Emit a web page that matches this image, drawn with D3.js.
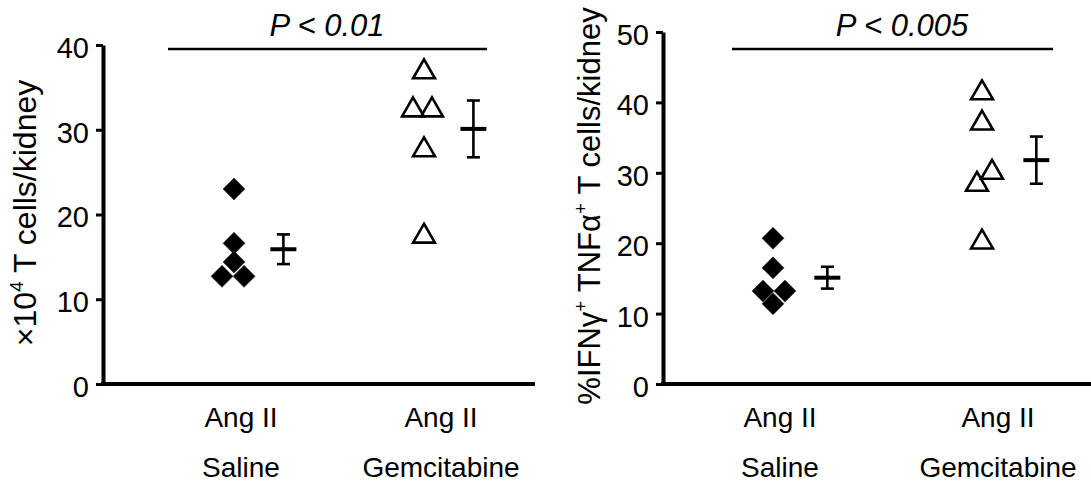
<!DOCTYPE html>
<html>
<head>
<meta charset="utf-8">
<script src="https://cdn.jsdelivr.net/npm/d3@7.9.0/dist/d3.min.js"></script>
<style>
  body { margin: 0; background: #fff; }
  svg { display: block; }
  text { font-family: "Liberation Sans", Arial, sans-serif; fill: #000; }
</style>
</head>
<body>
<svg id="chart" width="1091" height="487"></svg>
<script>
const groups = ["Saline", "Gemcitabine"];
const treatment = "Ang II";

// left panel: x10^4 T cells per kidney
const cellsSaline = [23.0, 16.6, 14.4, 12.7, 12.7];
const cellsGem = [37.2, 32.7, 32.7, 28.0, 17.8];
const cellsMean = [15.9, 30.1];
const cellsSem = [1.75, 3.35];
const cellsTicks = [0, 10, 20, 30, 40];

// right panel: % IFNg+ TNFa+ T cells per kidney
const ifnSaline = [20.7, 16.5, 13.2, 13.2, 11.4];
const ifnGem = [41.8, 37.5, 30.5, 28.8, 20.6];
const ifnMean = [15.1, 31.8];
const ifnSem = [1.55, 3.35];
const ifnTicks = [0, 10, 20, 30, 40, 50];

// side-by-side spread of tied points (fraction of group spacing)
const cellsSpread = [[0, 0, 0, -0.063, 0.053], [0, -0.058, 0.042, 0, 0]];
const ifnSpread = [[0, 0, -0.048, 0.057, 0], [0, 0, 0.048, -0.024, 0]];

const pLabels = ["P < 0.01", "P < 0.005"];

const svg = d3.select("#chart");

function drawPanel(cfg) {
  const g = svg.append("g");
  const y = d3.scaleLinear().domain([0, cfg.max]).range([cfg.yBottom, cfg.yTop]);
  const x = d3.scaleLinear().domain([0, 1]).range(cfg.groupX);

  // y axis
  g.append("g")
    .attr("transform", `translate(${cfg.axisX},0)`)
    .call(d3.axisLeft(y).tickValues(cfg.ticks).tickSize(7).tickSizeOuter(0).tickPadding(7))
    .attr("font-size", 29)
    .attr("font-family", null)
    .call(a => {
      a.select(".domain").attr("stroke", "#000").attr("stroke-width", 4);
      a.selectAll(".tick line").attr("stroke", "#000").attr("stroke-width", 3);
      a.selectAll(".tick text").attr("dy", "0.43em").attr("fill", "#000");
    });

  // x baseline
  g.append("line")
    .attr("x1", cfg.axisX - 2).attr("x2", cfg.right)
    .attr("y1", y(0)).attr("y2", y(0))
    .attr("stroke", "#000").attr("stroke-width", 4);

  // y title
  const t = g.append("text")
    .attr("transform", `translate(${cfg.titleX},${cfg.titleY}) rotate(-90)`)
    .attr("text-anchor", "middle")
    .attr("font-size", cfg.titleSize);
  cfg.title.forEach(p => {
    t.append("tspan")
      .attr("font-size", p.sup ? "0.6em" : null)
      .attr("dy", p.sup ? "-0.7em" : (p.back ? "0.42em" : null))
      .text(p.s);
  });

  // saline diamonds
  const diamond = d3.symbol(d3.symbolSquare, 242);
  g.selectAll(".dia")
    .data(cfg.saline)
    .join("path")
    .attr("d", diamond)
    .attr("transform", (d, j) => `translate(${x(0 + cfg.spread[0][j])},${y(d)}) rotate(45)`)
    .attr("fill", "#000")
    .attr("stroke", "#333")
    .attr("stroke-width", 0.6);

  // gemcitabine open triangles
  const tri = d3.symbol(d3.symbolTriangle, 206);
  g.selectAll(".tri")
    .data(cfg.gem)
    .join("path")
    .attr("d", tri)
    .attr("transform", (d, j) => `translate(${x(1 + cfg.spread[1][j])},${y(d) + 3.2})`)
    .attr("fill", "none")
    .attr("stroke", "#000")
    .attr("stroke-width", 2.6);

  // mean +/- SEM
  cfg.mean.forEach((m, i) => {
    const cx = x(i + 0.26);
    const top = y(m + cfg.sem[i]);
    const bot = y(m - cfg.sem[i]);
    g.append("line").attr("x1", cx).attr("x2", cx).attr("y1", top).attr("y2", bot)
      .attr("stroke", "#000").attr("stroke-width", 2.6);
    [top, bot].forEach(v => g.append("line")
      .attr("x1", cx - 6.5).attr("x2", cx + 6.5).attr("y1", v).attr("y2", v)
      .attr("stroke", "#000").attr("stroke-width", 2.6));
    g.append("line").attr("x1", cx - 13).attr("x2", cx + 13).attr("y1", y(m)).attr("y2", y(m))
      .attr("stroke", "#000").attr("stroke-width", 4);
  });

  // group labels
  groups.forEach((name, i) => {
    const lx = x(i) + cfg.labelShift[i];
    g.append("text").attr("x", lx).attr("y", 427).attr("text-anchor", "middle")
      .attr("font-size", 28).text(treatment);
    g.append("text").attr("x", lx).attr("y", 477).attr("text-anchor", "middle")
      .attr("font-size", 28).text(name);
  });

  // significance bar
  g.append("line")
    .attr("x1", cfg.sigX[0]).attr("x2", cfg.sigX[1])
    .attr("y1", 49).attr("y2", 49)
    .attr("stroke", "#000").attr("stroke-width", 2.5);
  g.append("text")
    .attr("x", cfg.pX).attr("y", 36)
    .attr("text-anchor", "middle")
    .attr("font-size", 31)
    .attr("font-style", "italic")
    .text(cfg.pLabel);
}

drawPanel({
  max: 40, ticks: cellsTicks, axisX: 103, right: 535, yTop: 45, yBottom: 384,
  groupX: [234, 424], saline: cellsSaline, gem: cellsGem, spread: cellsSpread,
  mean: cellsMean, sem: cellsSem, labelShift: [7, 17],
  sigX: [168, 487], pX: 327, pLabel: pLabels[0],
  titleX: 36, titleY: 213, titleSize: 32,
  title: [{ s: "×10" }, { s: "4", sup: true }, { s: " T cells/kidney", back: true }]
});

drawPanel({
  max: 50, ticks: ifnTicks, axisX: 663, right: 1091, yTop: 32, yBottom: 384,
  groupX: [773, 982], saline: ifnSaline, gem: ifnGem, spread: ifnSpread,
  mean: ifnMean, sem: ifnSem, labelShift: [7, 16],
  sigX: [732, 1053], pX: 902, pLabel: pLabels[1],
  titleX: 600, titleY: 206, titleSize: 31,
  title: [{ s: "%IFNγ" }, { s: "+", sup: true }, { s: " TNFα", back: true },
          { s: "+", sup: true }, { s: " T cells/kidney", back: true }]
});
</script>
</body>
</html>
